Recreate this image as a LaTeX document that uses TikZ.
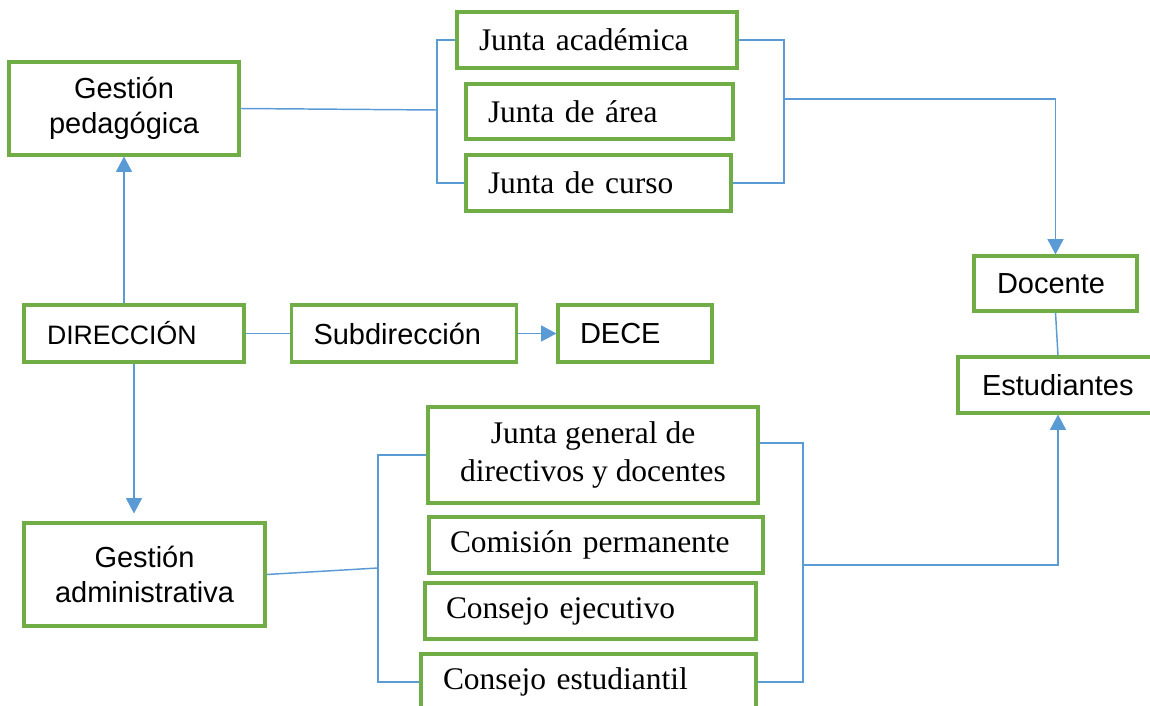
\documentclass[tikz,border=0pt]{standalone}
\usepackage{fontspec}
\setmainfont{Liberation Serif}
\setsansfont{Liberation Sans}
\usepackage{xcolor}
\usepackage{tikz}
\usetikzlibrary{positioning,arrows.meta}
\definecolor{boxgreen}{HTML}{70AD47}
\definecolor{linkblue}{HTML}{5B9BD5}

\begin{document}
\begin{tikzpicture}[x=0.75pt,y=-0.75pt,
  box/.style={draw=boxgreen,line width=2.3pt,inner ysep=2pt},
  sans/.style={font=\sffamily\fontsize{21.75}{26}\selectfont},
  serif/.style={font=\rmfamily\fontsize{23.6}{28.5}\selectfont},
  link/.style={draw=linkblue,line width=1.1pt},
  arr/.style={link,-{Triangle[width=12pt,length=11.5pt]}}]
\useasboundingbox (0,0) rectangle (1150,706);
\node[box,sans,align=center,minimum width=172.5pt,minimum height=69.75pt] (gp) at (124,108.5) {Gestión\\pedagógica};
\node[box,serif,align=left,text width=177pt,inner xsep=16.5pt,minimum height=42pt] (ja) at (597,40) {Junta académica};
\node[box,serif,align=left,text width=167.25pt,inner xsep=16.5pt,minimum height=41.25pt] (jar) at (599.5,111.5) {Junta de área};
\node[box,serif,align=left,text width=165.75pt,inner xsep=16.5pt,minimum height=42pt] (jc) at (598.5,183) {Junta de curso};
\node[box,sans,align=left,text width=87.75pt,inner xsep=17.25pt,minimum height=41.25pt] (doc) at (1055.5,283.5) {Docente};
\node[box,sans,align=left,text width=114pt,inner xsep=18pt,minimum height=42pt] (est) at (1058,385) {Estudiantes};
\node[box,sans,font=\sffamily\fontsize{20}{24}\selectfont,align=left,text width=130.5pt,inner xsep=17.25pt,minimum height=42.75pt] (dir) at (134,333.5) {DIRECCIÓN};
\node[box,sans,align=left,text width=135.75pt,inner xsep=16.5pt,minimum height=42.75pt] (sub) at (404,333.5) {Subdirección};
\node[box,sans,align=left,text width=82.5pt,inner xsep=16.5pt,minimum height=42.75pt] (dece) at (635,333.5) {DECE};
\node[box,sans,align=center,minimum width=180.75pt,minimum height=77.25pt] (ga) at (144.5,574.5) {Gestión\\administrativa};
\node[box,serif,align=center,minimum width=247.5pt,minimum height=72pt] (jg) at (593,455) {Junta general de\\directivos y docentes};
\node[box,serif,align=left,text width=219pt,inner xsep=15.75pt,minimum height=42pt] (cp) at (596,545) {Comisión permanente};
\node[box,serif,align=left,text width=216.75pt,inner xsep=15.75pt,minimum height=42pt] (ce) at (590.5,611) {Consejo ejecutivo};
\node[box,serif,align=left,text width=218.25pt,inner xsep=16.5pt,minimum height=42pt] (cest) at (588.5,682) {Consejo estudiantil};
\coordinate (lbr) at (437,110);
\coordinate (rbr) at (784,99);
\coordinate (lbb) at (378,568);
\coordinate (rbb) at (803,565);
\draw[link] (gp.east) -- (lbr);
\draw[link] (ja.west) -| (lbr) |- (jc.west);
\draw[link] (ja.east) -| (rbr) |- (jc.east);
\draw[arr] (rbr) -| (doc.north);
\draw[link] (doc.south) -- (est.north);
\draw[arr] (gp.south |- dir.north) -- (gp.south);
\draw[arr,shorten >=6pt] (dir.south) -- (dir.south |- ga.north);
\draw[link] (dir) -- (sub);
\draw[arr] (sub) -- (dece);
\draw[link] (ga.east) -- (lbb);
\draw[link] (jg.west) -| (lbb) |- (cest.west);
\draw[link] ([yshift=9pt]jg.east) -| (rbb) |- (cest.east);
\draw[arr] (rbb) -| (est.south);
\end{tikzpicture}
\end{document}
